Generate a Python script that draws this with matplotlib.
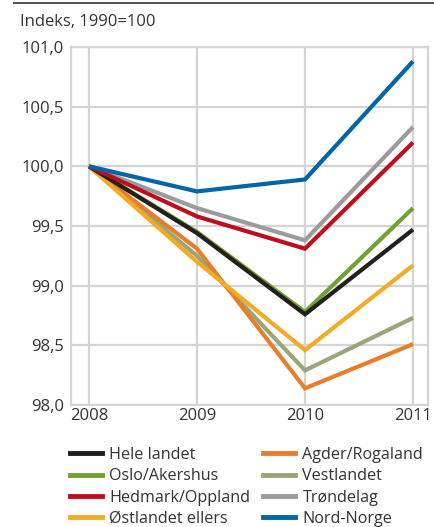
import matplotlib.pyplot as plt
from matplotlib.ticker import FuncFormatter
from matplotlib.lines import Line2D

plt.rcParams['font.family'] = ['Open Sans', 'DejaVu Sans']

years = [2008, 2009, 2010, 2011]

hele_landet = [100.0, 99.44, 98.76, 99.47]
oslo_akershus = [100.0, 99.45, 98.78, 99.65]
hedmark_oppland = [100.0, 99.58, 99.31, 100.20]
ostlandet_ellers = [100.0, 99.20, 98.46, 99.17]
agder_rogaland = [100.0, 99.31, 98.14, 98.51]
vestlandet = [100.0, 99.25, 98.29, 98.73]
trondelag = [100.0, 99.65, 99.38, 100.33]
nord_norge = [100.0, 99.79, 99.89, 100.88]

labels = ['Hele landet', 'Oslo/Akershus', 'Hedmark/Oppland', 'Østlandet ellers',
          'Agder/Rogaland', 'Vestlandet', 'Trøndelag', 'Nord-Norge']
series = [hele_landet, oslo_akershus, hedmark_oppland, ostlandet_ellers,
          agder_rogaland, vestlandet, trondelag, nord_norge]
colors = ['#231f20', '#6fa22e', '#c00d1e', '#f2ac23',
          '#e87d2b', '#9aa57a', '#9b9b9b', '#0066a6']

text_col = '#333333'
grid_col = '#d4d4d4'

fig = plt.figure(figsize=(4.34, 5.27), dpi=100)
ax = fig.add_axes([71 / 434, 1 - 405 / 527, (428 - 71) / 434, (405 - 47) / 527])

# draw order: back to front
order = [1, 5, 4, 3, 0, 6, 2, 7]
for i in order:
    ax.plot(years, series[i], color=colors[i], lw=3.0, solid_joinstyle='miter',
            solid_capstyle='butt', zorder=3)

ax.set_xlim(2008 - 18 / 108, 2011 + 15 / 108)
ax.set_ylim(98.0, 101.0)
ax.set_xticks(years)
ax.set_yticks([98.0, 98.5, 99.0, 99.5, 100.0, 100.5, 101.0])
ax.yaxis.set_major_formatter(FuncFormatter(lambda v, p: f'{v:.1f}'.replace('.', ',')))
ax.grid(True, color=grid_col, lw=1.6, zorder=0)
for s in ax.spines.values():
    s.set_color(grid_col)
    s.set_linewidth(1.6)
ax.tick_params(length=0, labelsize=12, colors=text_col)
ax.tick_params(axis='y', pad=5)
ax.tick_params(axis='x', pad=2)

fig.text(20 / 434, 1 - 22 / 527, 'Indeks, 1990=100', fontsize=12, color=text_col,
         va='center', ha='left')
fig.add_artist(Line2D([14 / 434, 1.0], [1 - 3 / 527, 1 - 3 / 527],
                      color='#555555', lw=1.5))

handles = [Line2D([], [], color=c, lw=3.5) for c in colors]
for col, x0 in enumerate([70, 263]):
    leg = fig.legend(handles[col * 4:col * 4 + 4], labels[col * 4:col * 4 + 4],
                     loc='upper left', bbox_to_anchor=(x0 / 434, 1 - 447 / 527),
                     frameon=False, fontsize=11.6, handlelength=2.0,
                     handletextpad=0.45, labelspacing=0.33, borderaxespad=0,
                     borderpad=0)
    for t in leg.get_texts():
        t.set_color(text_col)

fig.savefig('out.png', dpi=100)
